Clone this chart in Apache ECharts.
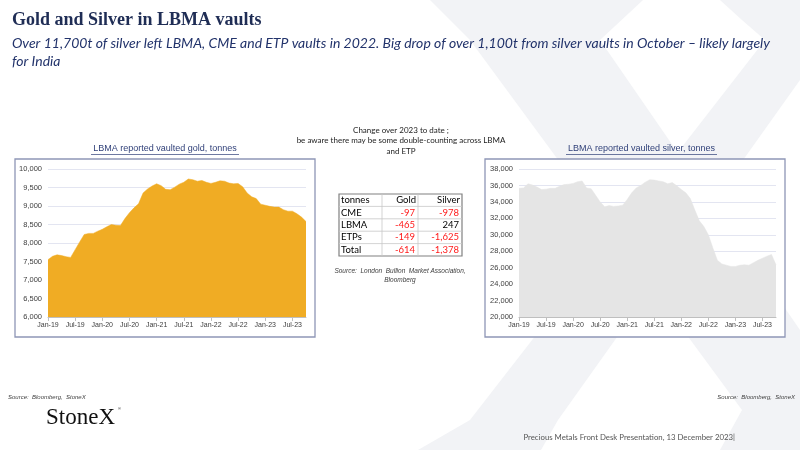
<!DOCTYPE html>
<html><head><meta charset="utf-8">
<script src="https://cdn.jsdelivr.net/npm/echarts/dist/echarts.min.js"></script>
<style>html,body{margin:0;padding:0;background:#fff}#c{width:800px;height:450px}</style>
</head><body><div id="c"></div><script>
const months = ['Jan-19','Feb-19','Mar-19','Apr-19','May-19','Jun-19','Jul-19','Aug-19','Sep-19','Oct-19','Nov-19','Dec-19',
'Jan-20','Feb-20','Mar-20','Apr-20','May-20','Jun-20','Jul-20','Aug-20','Sep-20','Oct-20','Nov-20','Dec-20',
'Jan-21','Feb-21','Mar-21','Apr-21','May-21','Jun-21','Jul-21','Aug-21','Sep-21','Oct-21','Nov-21','Dec-21',
'Jan-22','Feb-22','Mar-22','Apr-22','May-22','Jun-22','Jul-22','Aug-22','Sep-22','Oct-22','Nov-22','Dec-22',
'Jan-23','Feb-23','Mar-23','Apr-23','May-23','Jun-23','Jul-23','Aug-23','Sep-23','Oct-23'];
const goldTonnes = [7550,7640,7680,7660,7630,7610,7820,8030,8230,8260,8260,8320,
8370,8440,8500,8480,8470,8660,8820,8950,9060,9350,9460,9540,
9600,9550,9450,9440,9510,9590,9640,9730,9710,9670,9690,9640,
9610,9640,9680,9670,9620,9600,9610,9520,9350,9250,9200,9050,
9020,8990,8970,8970,8900,8860,8860,8790,8700,8580];
const silverTonnes = [35650,35700,36200,36050,35800,35500,35550,35650,35650,35900,36100,36150,
36250,36450,36550,35700,35600,34800,34000,33400,33550,33450,33500,33600,
34300,35100,35700,36000,36400,36700,36650,36550,36450,36200,36350,35950,
35500,35100,34400,33000,31700,31000,30000,28400,26900,26450,26300,26150,
26150,26300,26350,26300,26600,26900,27150,27400,27600,26350];
const goldAxis = {min:6000, max:10000, interval:500};
const silverAxis = {min:20000, max:38000, interval:2000};
const tableHeader = ['tonnes','Gold','Silver'];
const tableRows = ['CME','LBMA','ETPs','Total'];
const goldChange = [-97,-465,-149,-614];
const silverChange = [-978,247,-1625,-1378];

const fmt = v => Number(v).toLocaleString('en-US');
const chart = echarts.init(document.getElementById('c'), null, {renderer:'canvas'});
const navy = '#1f2d55';
const labelFont = 'Liberation Sans, Arial, sans-serif';

function xAxis(gi){
  return {type:'category', gridIndex:gi, data:months, boundaryGap:false,
    axisLine:{show:true, lineStyle:{color:'#bfbfbf', width:1}},
    axisTick:{show:true, interval:5, length:4, lineStyle:{color:'#bfbfbf'}},
    axisLabel:{interval:5, fontSize:7, color:'#404040', fontFamily:labelFont, margin:5},
    splitLine:{show:false}};
}
function yAxis(gi, ax){
  return {type:'value', gridIndex:gi, min:ax.min, max:ax.max, interval:ax.interval,
    axisLine:{show:false}, axisTick:{show:false},
    axisLabel:{fontSize:7.5, color:'#404040', fontFamily:labelFont, margin:6, formatter:fmt},
    splitLine:{show:true, lineStyle:{color:'#e3e5f1', width:1}}};
}

// table graphics
const tX = 339, tY = 194, rowH = 12.4, colX = [339, 382, 418, 462];
const tableG = [];
const tFont = 'Lato, "Open Sans", sans-serif';
tableG.push({type:'rect', shape:{x:tX, y:tY, width:colX[3]-tX, height:rowH*5}, style:{fill:'#fff', stroke:'#808080', lineWidth:1.2}, z:10});
for (let r=1;r<5;r++) tableG.push({type:'line', shape:{x1:tX, y1:tY+rowH*r, x2:colX[3], y2:tY+rowH*r}, style:{stroke:'#c8c8c8', lineWidth:0.8}, z:11});
for (let c=1;c<3;c++) tableG.push({type:'line', shape:{x1:colX[c], y1:tY, x2:colX[c], y2:tY+rowH*5}, style:{stroke:'#c8c8c8', lineWidth:0.8}, z:11});
tableHeader.forEach((h,i)=>{
  tableG.push({type:'text', z:12, style:{text:h, x: i===0? tX+2 : colX[i+1]-2, y:tY+rowH*0.5, align: i===0?'left':'right', verticalAlign:'middle', font:'9.5px '+tFont, fill:'#000'}});
});
tableRows.forEach((name,r)=>{
  const yy = tY + rowH*(r+1.5);
  tableG.push({type:'text', z:12, style:{text:name, x:tX+2, y:yy, align:'left', verticalAlign:'middle', font:'9.5px '+tFont, fill:'#000'}});
  [goldChange[r], silverChange[r]].forEach((v,c)=>{
    tableG.push({type:'text', z:12, style:{text:fmt(v), x:colX[c+2]-3, y:yy, align:'right', verticalAlign:'middle', font:'9.5px '+tFont, fill: v<0?'#ff1a1a':'#000'}});
  });
});

const wm = '#f2f3f6';
const option = {
  backgroundColor:'#ffffff',
  animation:false,
  title:[
    {text:'Gold and Silver in LBMA vaults', left:7, top:6, textStyle:{fontFamily:'"Liberation Serif", "DejaVu Serif", serif', fontSize:18, fontWeight:'bold', color:navy}},
    {text:'Over 11,700t of silver left LBMA, CME and ETP vaults in 2022. Big drop of over 1,100t from silver vaults in October – likely largely\nfor India', left:7, top:29,
      textStyle:{fontFamily:'Lato, sans-serif', fontStyle:'italic', fontSize:14, fontWeight:'normal', color:'#22336b', lineHeight:18}}
  ],
  grid:[
    {left:48, top:169, width:258, height:148, containLabel:false, outerBoundsMode:'none'},
    {left:519, top:169, width:257, height:148, containLabel:false, outerBoundsMode:'none'}
  ],
  xAxis:[xAxis(0), xAxis(1)],
  yAxis:[yAxis(0, goldAxis), yAxis(1, silverAxis)],
  series:[
    {type:'line', xAxisIndex:0, yAxisIndex:0, data:goldTonnes, showSymbol:false, symbol:'none',
      lineStyle:{width:0.5, color:'#f0ac24'}, areaStyle:{color:'#f0ac24', opacity:1}, z:3},
    {type:'line', xAxisIndex:1, yAxisIndex:1, data:silverTonnes, showSymbol:false, symbol:'none',
      lineStyle:{width:0.5, color:'#e5e5e5'}, areaStyle:{color:'#e5e5e5', opacity:1}, z:3}
  ],
  graphic:[
    // watermark X
    {type:'polygon', z:-10, silent:true, shape:{points:[[430,0],[643,0],[600,40],[800,330],[800,450],[720,450],[742,410],[470,40]]}, style:{fill:wm}},
    {type:'polygon', z:-10, silent:true, shape:{points:[[720,0],[800,0],[800,80],[558,420],[541,450],[418,450],[470,420],[765,40],[742,20]]}, style:{fill:wm}},
    // chart boxes
    {type:'rect', z:-1, shape:{x:15, y:159, width:300, height:178}, style:{fill:'#fff', stroke:'#8e96b6', lineWidth:1.3}},
    {type:'rect', z:-1, shape:{x:485, y:159, width:300, height:178}, style:{fill:'#fff', stroke:'#8e96b6', lineWidth:1.3}},
    // chart titles
    {type:'text', z:5, style:{text:'LBMA reported vaulted gold, tonnes', x:165, y:149, align:'center', verticalAlign:'middle', font:'9px '+labelFont, fill:'#2f3f78'}},
    {type:'line', z:5, shape:{x1:91, y1:154.5, x2:239, y2:154.5}, style:{stroke:'#2f3f78', lineWidth:0.7}},
    {type:'text', z:5, style:{text:'LBMA reported vaulted silver, tonnes', x:641.5, y:149, align:'center', verticalAlign:'middle', font:'9px '+labelFont, fill:'#2f3f78'}},
    {type:'line', z:5, shape:{x1:566, y1:154.5, x2:717, y2:154.5}, style:{stroke:'#2f3f78', lineWidth:0.7}},
    // note text
    {type:'text', z:5, style:{text:'Change over 2023 to date ;\nbe aware there may be some double-counting across LBMA\nand ETP', x:401, y:125, align:'center', verticalAlign:'top', font:'8px '+tFont, fill:'#222', lineHeight:10.5}},
    ...tableG,
    {type:'text', z:5, style:{text:'Source:  London  Bullion  Market Association,\nBloomberg', x:400, y:267, align:'center', verticalAlign:'top', font:'italic 6.5px '+labelFont, fill:'#404040', lineHeight:8.5}},
    // footer
    {type:'text', z:5, style:{text:'Source:  Bloomberg,  StoneX', x:8, y:397, align:'left', verticalAlign:'middle', font:'italic 6px '+labelFont, fill:'#404040'}},
    {type:'text', z:5, style:{text:'Source:  Bloomberg,  StoneX', x:795, y:397, align:'right', verticalAlign:'middle', font:'italic 6px '+labelFont, fill:'#404040'}},
    {type:'text', z:5, style:{text:'StoneX', x:46, y:418, align:'left', verticalAlign:'middle', font:'23px "Liberation Serif", serif', fill:'#111'}},
    {type:'text', z:5, style:{text:'®', x:118, y:409, align:'left', verticalAlign:'middle', font:'4px '+labelFont, fill:'#111'}},
    {type:'text', z:5, style:{text:'Precious Metals Front Desk Presentation, 13 December 2023|', x:735, y:437, align:'right', verticalAlign:'middle', font:'7.8px '+tFont, fill:'#555'}}
  ]
};
chart.setOption(option);
</script></body></html>
